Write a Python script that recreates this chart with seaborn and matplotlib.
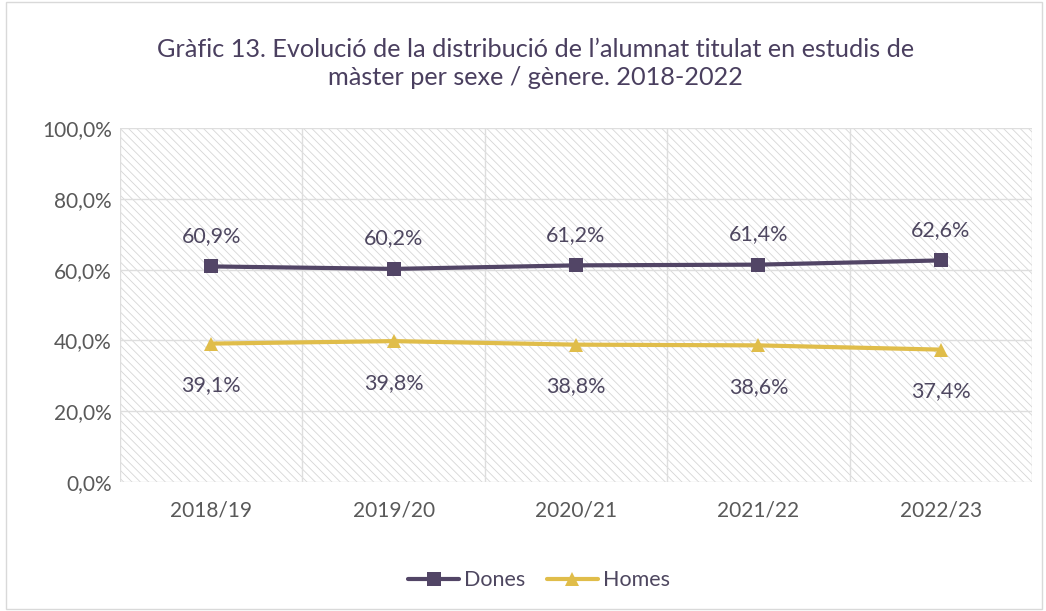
import matplotlib
matplotlib.use("Agg")
import matplotlib.pyplot as plt
from matplotlib.patches import Rectangle
from matplotlib.ticker import FuncFormatter
import seaborn as sns
import pandas as pd

# Dades
cursos = ["2018/19", "2019/20", "2020/21", "2021/22", "2022/23"]
dones = [60.9, 60.2, 61.2, 61.4, 62.6]
homes = [39.1, 39.8, 38.8, 38.6, 37.4]

df = pd.DataFrame({
    "curs": cursos * 2,
    "pct": dones + homes,
    "sexe": ["Dones"] * len(cursos) + ["Homes"] * len(cursos),
})

sns.set_style("white")
plt.rcParams["font.family"] = ["Lato", "DejaVu Sans"]
plt.rcParams["hatch.linewidth"] = 0.6
plt.rcParams["hatch.color"] = "#d6d6d6"

c_dones = "#524566"
c_homes = "#e0bd4a"
c_text = "#595959"

fig = plt.figure(figsize=(10.46, 6.11), dpi=100)
ax = fig.add_axes([0.1147, 0.2111, 0.8719, 0.5794])

# fons ratllat
ax.add_patch(Rectangle((0, 0), 1, 1, transform=ax.transAxes, facecolor="white",
                       edgecolor="#d6d6d6", hatch="\\\\\\\\", linewidth=0, zorder=0))

sns.lineplot(data=df, x="curs", y="pct", hue="sexe", style="sexe",
             markers={"Dones": "s", "Homes": "^"}, dashes=False,
             palette={"Dones": c_dones, "Homes": c_homes},
             linewidth=3, markersize=10, markeredgewidth=0, ax=ax, zorder=3)

ax.set_xlim(-0.5, 4.5)
ax.set_ylim(0, 100)
ax.set_yticks(range(0, 101, 20))
ax.yaxis.set_major_formatter(FuncFormatter(lambda v, p: f"{v:.1f}%".replace(".", ",")))
ax.set_xlabel("")
ax.set_ylabel("")

# graella
for v in range(0, 101, 20):
    ax.axhline(v, color="#dedede", linewidth=1, zorder=1)
for xv in [-0.5, 0.5, 1.5, 2.5, 3.5, 4.5]:
    ax.axvline(xv, color="#dedede", linewidth=1, zorder=1)
for s in ax.spines.values():
    s.set_visible(False)

ax.tick_params(axis="both", length=0, labelsize=15, labelcolor=c_text)
ax.tick_params(axis="x", pad=13)
ax.tick_params(axis="y", pad=6)

# etiquetes
for i, v in enumerate(dones):
    ax.annotate(f"{v:.1f}%".replace(".", ","), (i, v), xytext=(0, 22),
                textcoords="offset points", ha="center", va="center",
                fontsize=15.5, color="#4e4760")
for i, v in enumerate(homes):
    ax.annotate(f"{v:.1f}%".replace(".", ","), (i, v), xytext=(0, -30),
                textcoords="offset points", ha="center", va="center",
                fontsize=15.5, color="#4e4760")

fig.text(0.512, 0.896, "Gràfic 13. Evolució de la distribució de l’alumnat titulat en estudis de\nmàster per sexe / gènere. 2018-2022",
         ha="center", va="center", fontsize=18.2, color="#4a3f5f", linespacing=1.3)

handles, labels = ax.get_legend_handles_labels()
ax.legend(handles, labels, loc="center", bbox_to_anchor=(0.515, 0.05),
          bbox_transform=fig.transFigure, ncol=2, frameon=False,
          fontsize=15.5, labelcolor="#4e4760", handlelength=2.4,
          columnspacing=1.0, handletextpad=0.2)

fig.patches.append(Rectangle((0.006, 0.003), 0.99, 0.994, transform=fig.transFigure,
                             fill=False, edgecolor="#d9d9d9", linewidth=1))

fig.savefig("out.png", dpi=100)
